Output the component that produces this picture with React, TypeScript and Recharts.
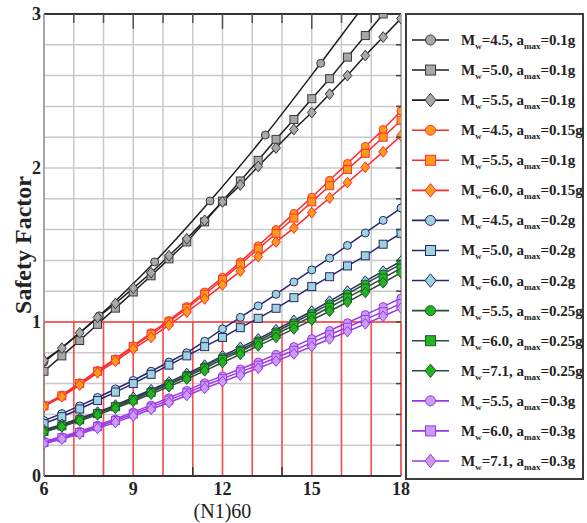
import React from 'react';
import { LineChart, Line, XAxis, YAxis, CartesianGrid, ReferenceLine } from 'recharts';

// (N1)60 values where the markers sit
const nValues = [6, 6.6, 7.2, 7.8, 8.4, 9, 9.6, 10.2, 10.8, 11.4, 12, 12.6, 13.2, 13.8, 14.4, 15, 15.6, 16.2, 16.8, 17.4, 18];
// the Mw=4.5 / 0.1g curve has its markers on a coarser step
const nValuesCoarse = [6, 7.86, 9.72, 11.58, 13.44, 15.3, 17.16];

const fsM45a010 = [0.74, 1.04, 1.39, 1.786, 2.214, 2.68, 3.16];
const fsM50a010 = [0.68, 0.78, 0.88, 0.985, 1.09, 1.195, 1.3, 1.41, 1.52, 1.65, 1.785, 1.916, 2.05, 2.186, 2.315, 2.45, 2.58, 2.72, 2.86, 3.0, 3.14];
const fsM55a010 = [0.75, 0.83, 0.93, 1.03, 1.12, 1.22, 1.32, 1.43, 1.54, 1.66, 1.78, 1.89, 2.01, 2.13, 2.25, 2.36, 2.48, 2.6, 2.73, 2.85, 2.97];

const fsM45a015 = [0.46, 0.525, 0.605, 0.685, 0.76, 0.845, 0.93, 1.01, 1.1, 1.195, 1.29, 1.39, 1.495, 1.6, 1.705, 1.81, 1.92, 2.03, 2.14, 2.25, 2.37];
const fsM55a010b = [0.455, 0.52, 0.6, 0.68, 0.755, 0.84, 0.92, 1.0, 1.09, 1.18, 1.275, 1.375, 1.475, 1.575, 1.675, 1.78, 1.885, 1.99, 2.095, 2.2, 2.31];
const fsM60a015 = [0.45, 0.515, 0.59, 0.67, 0.745, 0.825, 0.9, 0.98, 1.065, 1.15, 1.24, 1.33, 1.425, 1.52, 1.61, 1.71, 1.805, 1.905, 2.005, 2.105, 2.21];

const fsM45a020 = [0.36, 0.405, 0.455, 0.51, 0.565, 0.62, 0.68, 0.74, 0.8, 0.875, 0.955, 1.03, 1.105, 1.18, 1.26, 1.338, 1.415, 1.497, 1.578, 1.66, 1.74];
const fsM50a020 = [0.34, 0.385, 0.435, 0.49, 0.545, 0.6, 0.66, 0.72, 0.78, 0.84, 0.9, 0.963, 1.024, 1.089, 1.158, 1.23, 1.294, 1.364, 1.43, 1.505, 1.576];
const fsM60a020 = [0.3, 0.335, 0.375, 0.415, 0.46, 0.51, 0.56, 0.61, 0.665, 0.72, 0.78, 0.835, 0.89, 0.95, 1.01, 1.07, 1.135, 1.2, 1.265, 1.33, 1.395];

const fsM55a025 = [0.295, 0.33, 0.37, 0.41, 0.455, 0.5, 0.55, 0.6, 0.655, 0.71, 0.77, 0.82, 0.878, 0.937, 0.995, 1.055, 1.118, 1.182, 1.247, 1.312, 1.375];
const fsM60a025 = [0.29, 0.325, 0.365, 0.405, 0.45, 0.495, 0.543, 0.593, 0.645, 0.7, 0.757, 0.81, 0.865, 0.922, 0.978, 1.036, 1.096, 1.158, 1.22, 1.285, 1.35];
const fsM71a025 = [0.285, 0.32, 0.358, 0.397, 0.44, 0.485, 0.532, 0.58, 0.63, 0.683, 0.737, 0.79, 0.845, 0.9, 0.955, 1.012, 1.07, 1.13, 1.192, 1.255, 1.32];

const fsM55a030 = [0.225, 0.255, 0.29, 0.33, 0.37, 0.415, 0.46, 0.508, 0.556, 0.605, 0.65, 0.695, 0.74, 0.79, 0.84, 0.892, 0.945, 0.995, 1.048, 1.1, 1.155];
const fsM60a030 = [0.218, 0.248, 0.282, 0.32, 0.36, 0.403, 0.447, 0.493, 0.54, 0.588, 0.632, 0.676, 0.72, 0.768, 0.816, 0.866, 0.917, 0.966, 1.017, 1.067, 1.12];
const fsM71a030 = [0.21, 0.24, 0.273, 0.31, 0.348, 0.39, 0.433, 0.477, 0.523, 0.57, 0.613, 0.656, 0.7, 0.746, 0.793, 0.841, 0.89, 0.938, 0.988, 1.037, 1.09];

const xTicks = [6, 9, 12, 15, 18];
const yTicks = [0, 1, 2, 3];
const gridY = [0.2, 0.4, 0.6, 0.8, 1, 1.2, 1.4, 1.6, 1.8, 2, 2.2, 2.4, 2.6, 2.8];
const gridX = [7, 8, 9, 10, 11, 12, 13, 14, 15, 16, 17];
const redX = [6, 7, 8, 9, 10, 11, 12, 13, 14, 15, 16, 17, 18];
const topTicksLong = [9, 12, 15];
const bottomTicks = [11, 14];

const X_MIN = 6;
const X_MAX = 18;
const Y_MAX = 3;

// plot box inside the 587x523 picture
const CHART_W = 587;
const CHART_H = 523;
const MARGIN = { top: 14, right: 186, bottom: 0, left: 0 };
const Y_AXIS_W = 44;
const X_AXIS_H = 47;
const plotLeft = MARGIN.left + Y_AXIS_W;
const plotTop = MARGIN.top;
const plotW = CHART_W - MARGIN.right - plotLeft;
const plotH = CHART_H - MARGIN.bottom - X_AXIS_H - plotTop;

const groups = {
  black: { line: '#1e1e1e', fill: '#a8a8a8', edge: '#3a3a3a' },
  red: { line: '#ff2a2a', fill: '#ff9a1a', edge: '#ff3030' },
  blue: { line: '#25286e', fill: '#9fd3dc', edge: '#25286e' },
  green: { line: '#2d4a3a', fill: '#22b522', edge: '#1f5a2a' },
  purple: { line: '#9a36e6', fill: '#c99cf5', edge: '#9a36e6' },
};

const series = [
  { id: 's1', mw: '4.5', acc: '0.1g', shape: 'circle', group: 'black', xs: nValuesCoarse, ys: fsM45a010 },
  { id: 's2', mw: '5.0', acc: '0.1g', shape: 'square', group: 'black', xs: nValues, ys: fsM50a010 },
  { id: 's3', mw: '5.5', acc: '0.1g', shape: 'diamond', group: 'black', xs: nValues, ys: fsM55a010 },
  { id: 's4', mw: '4.5', acc: '0.15g', shape: 'circle', group: 'red', xs: nValues, ys: fsM45a015 },
  { id: 's5', mw: '5.5', acc: '0.1g', shape: 'square', group: 'red', xs: nValues, ys: fsM55a010b },
  { id: 's6', mw: '6.0', acc: '0.15g', shape: 'diamond', group: 'red', xs: nValues, ys: fsM60a015 },
  { id: 's7', mw: '4.5', acc: '0.2g', shape: 'circle', group: 'blue', xs: nValues, ys: fsM45a020 },
  { id: 's8', mw: '5.0', acc: '0.2g', shape: 'square', group: 'blue', xs: nValues, ys: fsM50a020 },
  { id: 's9', mw: '6.0', acc: '0.2g', shape: 'diamond', group: 'blue', xs: nValues, ys: fsM60a020 },
  { id: 's10', mw: '5.5', acc: '0.25g', shape: 'circle', group: 'green', xs: nValues, ys: fsM55a025 },
  { id: 's11', mw: '6.0', acc: '0.25g', shape: 'square', group: 'green', xs: nValues, ys: fsM60a025 },
  { id: 's12', mw: '7.1', acc: '0.25g', shape: 'diamond', group: 'green', xs: nValues, ys: fsM71a025 },
  { id: 's13', mw: '5.5', acc: '0.3g', shape: 'circle', group: 'purple', xs: nValues, ys: fsM55a030 },
  { id: 's14', mw: '6.0', acc: '0.3g', shape: 'square', group: 'purple', xs: nValues, ys: fsM60a030 },
  { id: 's15', mw: '7.1', acc: '0.3g', shape: 'diamond', group: 'purple', xs: nValues, ys: fsM71a030 },
];

const serif = '"Liberation Serif", "Times New Roman", serif';

function Marker({ shape, cx, cy, size, fill, stroke }: any) {
  if (cx == null || cy == null) return null;
  if (shape === 'circle') {
    return <circle cx={cx} cy={cy} r={size} fill={fill} stroke={stroke} strokeWidth={1} />;
  }
  if (shape === 'square') {
    return <rect x={cx - size} y={cy - size} width={size * 2} height={size * 2} fill={fill} stroke={stroke} strokeWidth={1} />;
  }
  const h = size * 1.35;
  const w = size * 1.1;
  return (
    <polygon
      points={`${cx},${cy - h} ${cx + w},${cy} ${cx},${cy + h} ${cx - w},${cy}`}
      fill={fill}
      stroke={stroke}
      strokeWidth={1}
    />
  );
}

// little inward tick marks on the frame (top, right, two at the bottom)
function FrameTicks() {
  const px = (x: number) => plotLeft + ((x - X_MIN) / (X_MAX - X_MIN)) * plotW;
  const py = (y: number) => plotTop + ((Y_MAX - y) / Y_MAX) * plotH;
  const right = plotLeft + plotW;
  const bottom = plotTop + plotH;
  return (
    <svg width={CHART_W} height={CHART_H} style={{ position: 'absolute', left: 0, top: 0, pointerEvents: 'none' }}>
      {gridX.map((x) => (
        <line key={`t${x}`} x1={px(x)} x2={px(x)} y1={plotTop} y2={plotTop + (topTicksLong.includes(x) ? 15 : 9)} stroke="#555" strokeWidth={1.5} />
      ))}
      {gridY.map((y) => (
        <line key={`r${y}`} x1={right - 5} x2={right} y1={py(y)} y2={py(y)} stroke="#444" strokeWidth={1.5} />
      ))}
      {bottomTicks.map((x) => (
        <line key={`b${x}`} x1={px(x)} x2={px(x)} y1={bottom - 9} y2={bottom} stroke="#333" strokeWidth={1.5} />
      ))}
    </svg>
  );
}

function LegendBox() {
  return (
    <svg width={180} height={468} style={{ position: 'absolute', left: 405, top: 13 }}>
      <rect x={1} y={1} width={177} height={465} fill="#fff" stroke="#3c3c3c" strokeWidth={2} />
      {series.map((s, i) => {
        const c = groups[s.group as keyof typeof groups];
        const cy = 27 + i * 30.07;
        return (
          <g key={s.id}>
            <line x1={7} x2={44} y1={cy} y2={cy} stroke={c.line} strokeWidth={1.6} />
            <Marker shape={s.shape} cx={25.5} cy={cy} size={5} fill={c.fill} stroke={c.edge} />
            <text x={56} y={cy + 5} fontFamily={serif} fontWeight="bold" fontSize={15} fill="#222">
              M
              <tspan fontSize={9} dy={4}>w</tspan>
              <tspan dy={-4}>{`=${s.mw}, a`}</tspan>
              <tspan fontSize={9} dy={4}>max</tspan>
              <tspan dy={-4}>{`=${s.acc}`}</tspan>
            </text>
          </g>
        );
      })}
    </svg>
  );
}

export default function App() {
  const tickStyle = { fill: '#222', fontSize: 18, fontFamily: serif, fontWeight: 'bold' as const };

  return (
    <div style={{ position: 'relative', width: CHART_W, height: CHART_H, background: '#fff' }}>
      <style>{'body{margin:0;}'}</style>
      <LineChart width={CHART_W} height={CHART_H} margin={MARGIN}>
        {/* light grid: every 1 in (N1)60, every 0.2 in safety factor */}
        <CartesianGrid
          stroke="#c9c9c9"
          strokeWidth={1.5}
          verticalValues={gridX}
          horizontalCoordinatesGenerator={({ offset }: any) =>
            gridY.map((v) => offset.top + ((Y_MAX - v) / Y_MAX) * offset.height)
          }
        />
        {/* frame: dark top edge, grey right edge */}
        <CartesianGrid
          stroke="#333"
          strokeWidth={2}
          vertical={false}
          horizontalCoordinatesGenerator={({ offset }: any) => [offset.top]}
        />
        <CartesianGrid
          stroke="#9a9a9a"
          strokeWidth={1.5}
          horizontal={false}
          verticalCoordinatesGenerator={({ offset }: any) => [offset.left + offset.width]}
        />
        <XAxis
          type="number"
          dataKey="n"
          domain={[X_MIN, X_MAX]}
          ticks={xTicks}
          allowDataOverflow
          height={X_AXIS_H}
          tickSize={0}
          tickMargin={6}
          tick={tickStyle}
          axisLine={{ stroke: '#333', strokeWidth: 2 }}
          label={{ value: '(N1)60', position: 'insideBottom', offset: 5, fill: '#222', fontSize: 20, fontFamily: serif }}
        />
        <YAxis
          type="number"
          domain={[0, Y_MAX]}
          ticks={yTicks}
          allowDataOverflow
          width={Y_AXIS_W}
          tickSize={0}
          tickMargin={3}
          tick={tickStyle}
          axisLine={{ stroke: '#8a8a8a', strokeWidth: 1.5 }}
          label={{ value: 'Safety Factor', angle: -90, position: 'center', fill: '#222', fontSize: 24, fontFamily: serif, fontWeight: 'bold' }}
        />

        {redX.map((x) => (
          <ReferenceLine key={`red-${x}`} segment={[{ x, y: 0 }, { x, y: 1 }]} stroke="#ff4a4a" strokeWidth={1.5} />
        ))}
        <ReferenceLine y={1} stroke="#ff3a3a" strokeWidth={1.5} />

        {series.map((s) => {
          const c = groups[s.group as keyof typeof groups];
          const data = s.ys.map((v, i) => ({ n: s.xs[i], fs: v }));
          return (
            <Line
              key={s.id}
              data={data}
              dataKey="fs"
              name={s.id}
              type={s.xs === nValuesCoarse ? 'monotone' : 'linear'}
              stroke={c.line}
              strokeWidth={1.5}
              isAnimationActive={false}
              activeDot={false}
              dot={(p: any) => (
                <Marker key={`${s.id}-${p.index}`} shape={s.shape} cx={p.cx} cy={p.cy} size={4} fill={c.fill} stroke={c.edge} />
              )}
            />
          );
        })}
      </LineChart>
      <FrameTicks />
      <LegendBox />
    </div>
  );
}
